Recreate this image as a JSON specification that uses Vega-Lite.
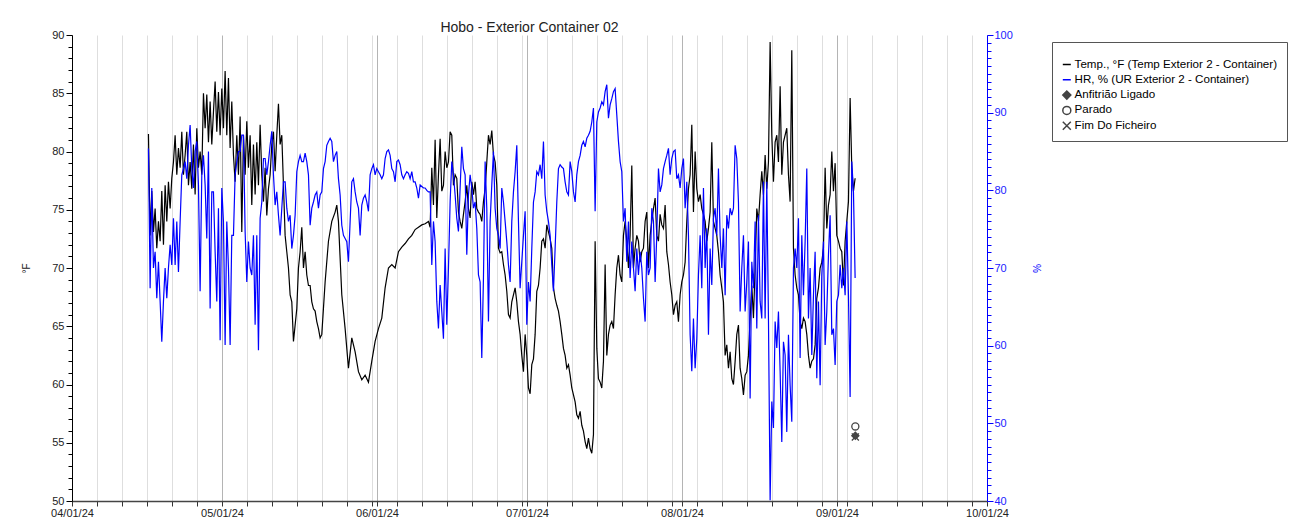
{
"$schema": "https://vega.github.io/schema/vega-lite/v6.json",
"width": 915,
"height": 466,
"autosize": {"type": "none"},
"padding": {"left": 72, "top": 35, "right": 307, "bottom": 18},
"background": "white",
"title": {"text": "Hobo - Exterior Container 02", "fontSize": 14, "font": "Liberation Sans", "fontWeight": "normal", "color": "#222222", "offset": -6, "frame": "group", "anchor": "middle"},
"config": {"view": {"stroke": null}, "font": "Liberation Sans", "axis": {"labelFont": "Liberation Sans", "titleFont": "Liberation Sans"}},
"encoding": {
  "x": {"field": "t", "type": "temporal", "title": null,
    "scale": {"domain": [{"year": 2024, "month": 4, "date": 1}, {"year": 2024, "month": 10, "date": 1}]},
    "axis": {
      "values": [{"year":2024,"month":4,"date":1},{"year":2024,"month":4,"date":6},{"year":2024,"month":4,"date":11},{"year":2024,"month":4,"date":16},{"year":2024,"month":4,"date":21},{"year":2024,"month":4,"date":26},{"year":2024,"month":5,"date":1},{"year":2024,"month":5,"date":6},{"year":2024,"month":5,"date":11},{"year":2024,"month":5,"date":16},{"year":2024,"month":5,"date":21},{"year":2024,"month":5,"date":26},{"year":2024,"month":5,"date":31},{"year":2024,"month":6,"date":1},{"year":2024,"month":6,"date":5},{"year":2024,"month":6,"date":10},{"year":2024,"month":6,"date":15},{"year":2024,"month":6,"date":20},{"year":2024,"month":6,"date":25},{"year":2024,"month":6,"date":30},{"year":2024,"month":7,"date":1},{"year":2024,"month":7,"date":5},{"year":2024,"month":7,"date":10},{"year":2024,"month":7,"date":15},{"year":2024,"month":7,"date":20},{"year":2024,"month":7,"date":25},{"year":2024,"month":7,"date":30},{"year":2024,"month":8,"date":1},{"year":2024,"month":8,"date":4},{"year":2024,"month":8,"date":9},{"year":2024,"month":8,"date":14},{"year":2024,"month":8,"date":19},{"year":2024,"month":8,"date":24},{"year":2024,"month":8,"date":29},{"year":2024,"month":9,"date":1},{"year":2024,"month":9,"date":3},{"year":2024,"month":9,"date":8},{"year":2024,"month":9,"date":13},{"year":2024,"month":9,"date":18},{"year":2024,"month":9,"date":23},{"year":2024,"month":9,"date":28},{"year":2024,"month":10,"date":1}],
      "labelExpr": "date(datum.value) == 1 ? timeFormat(datum.value, '%m/%d/%y') : ''",
      "labelOverlap": false, "labelFlush": false, "labelFontSize": 11, "labelColor": "#222222", "labelPadding": 1,
      "grid": true,
      "gridColor": {"condition": {"test": "date(datum.value) == 1", "value": "#b4b4b4"}, "value": "#dedede"},
      "gridWidth": 1,
      "tickColor": "#333333", "tickSize": 5, "domainColor": "#444444", "domainWidth": 1.5
    }
  }
},
"layer": [
  {
    "layer": [
      {
        "data": {"format": {"parse": {"t": "date:'%Y-%m-%d %H'"}}, "values": [
{"t":"2024-04-16 07","v":81.5},{"t":"2024-04-16 15","v":72.8},{"t":"2024-04-16 23","v":76.6},
{"t":"2024-04-17 07","v":73.1},{"t":"2024-04-17 15","v":75.1},{"t":"2024-04-17 23","v":71.7},
{"t":"2024-04-18 07","v":74.0},{"t":"2024-04-18 15","v":72.3},{"t":"2024-04-18 23","v":76.6},
{"t":"2024-04-19 07","v":72.0},{"t":"2024-04-19 15","v":77.1},{"t":"2024-04-19 23","v":74.0},
{"t":"2024-04-20 07","v":77.4},{"t":"2024-04-20 15","v":75.1},{"t":"2024-04-20 23","v":77.7},
{"t":"2024-04-21 07","v":79.1},{"t":"2024-04-21 15","v":81.4},{"t":"2024-04-21 23","v":78.0},
{"t":"2024-04-22 07","v":80.3},{"t":"2024-04-22 15","v":78.6},{"t":"2024-04-22 23","v":81.7},
{"t":"2024-04-23 07","v":78.0},{"t":"2024-04-23 15","v":79.7},{"t":"2024-04-23 23","v":81.7},
{"t":"2024-04-24 07","v":77.1},{"t":"2024-04-24 15","v":79.1},{"t":"2024-04-24 23","v":76.8},
{"t":"2024-04-25 07","v":80.6},{"t":"2024-04-25 15","v":76.3},{"t":"2024-04-25 23","v":82.0},
{"t":"2024-04-26 07","v":78.6},{"t":"2024-04-26 15","v":80.0},{"t":"2024-04-26 23","v":78.0},
{"t":"2024-04-27 07","v":85.0},{"t":"2024-04-27 15","v":82.0},{"t":"2024-04-27 23","v":84.9},
{"t":"2024-04-28 07","v":80.8},{"t":"2024-04-28 15","v":84.3},{"t":"2024-04-28 23","v":80.6},
{"t":"2024-04-29 07","v":83.4},{"t":"2024-04-29 15","v":86.0},{"t":"2024-04-29 23","v":81.7},
{"t":"2024-04-30 07","v":85.1},{"t":"2024-04-30 15","v":81.4},{"t":"2024-04-30 23","v":85.4},
{"t":"2024-05-01 07","v":82.0},{"t":"2024-05-01 15","v":86.9},{"t":"2024-05-01 23","v":81.4},
{"t":"2024-05-02 07","v":86.3},{"t":"2024-05-02 15","v":80.3},{"t":"2024-05-02 23","v":84.3},
{"t":"2024-05-03 07","v":79.7},{"t":"2024-05-03 15","v":77.4},{"t":"2024-05-03 23","v":81.4},
{"t":"2024-05-04 07","v":78.0},{"t":"2024-05-04 15","v":83.0},{"t":"2024-05-04 23","v":73.1},
{"t":"2024-05-05 07","v":81.4},{"t":"2024-05-05 15","v":78.0},{"t":"2024-05-05 23","v":82.6},
{"t":"2024-05-06 07","v":78.6},{"t":"2024-05-06 15","v":81.4},{"t":"2024-05-06 23","v":75.4},
{"t":"2024-05-07 07","v":80.6},{"t":"2024-05-07 15","v":76.3},{"t":"2024-05-07 23","v":80.8},
{"t":"2024-05-08 07","v":77.1},{"t":"2024-05-08 15","v":82.3},{"t":"2024-05-08 23","v":78.0},
{"t":"2024-05-09 07","v":75.7},{"t":"2024-05-09 15","v":78.6},{"t":"2024-05-09 23","v":74.5},
{"t":"2024-05-10 07","v":76.8},{"t":"2024-05-10 15","v":78.0},{"t":"2024-05-10 23","v":80.6},
{"t":"2024-05-11 07","v":81.7},{"t":"2024-05-11 15","v":78.3},{"t":"2024-05-11 23","v":81.4},
{"t":"2024-05-12 07","v":84.1},{"t":"2024-05-12 15","v":80.6},{"t":"2024-05-12 23","v":81.4},
{"t":"2024-05-13 07","v":77.1},{"t":"2024-05-13 15","v":72.8},{"t":"2024-05-13 23","v":71.4},
{"t":"2024-05-14 07","v":70.0},{"t":"2024-05-14 15","v":67.7},{"t":"2024-05-14 23","v":67.1},
{"t":"2024-05-15 07","v":63.7},{"t":"2024-05-15 15","v":65.1},{"t":"2024-05-15 23","v":66.5},
{"t":"2024-05-16 07","v":70.0},{"t":"2024-05-16 15","v":71.4},{"t":"2024-05-16 23","v":73.5},
{"t":"2024-05-17 07","v":70.0},{"t":"2024-05-17 15","v":71.4},{"t":"2024-05-17 23","v":69.4},
{"t":"2024-05-18 07","v":68.5},{"t":"2024-05-18 15","v":68.5},{"t":"2024-05-18 23","v":67.1},
{"t":"2024-05-19 07","v":66.5},{"t":"2024-05-19 15","v":66.3},{"t":"2024-05-19 23","v":65.4},
{"t":"2024-05-20 07","v":64.8},{"t":"2024-05-20 15","v":64.0},{"t":"2024-05-20 23","v":64.3},
{"t":"2024-05-21 15","v":68.8},{"t":"2024-05-22 07","v":72.3},{"t":"2024-05-22 23","v":74.0},
{"t":"2024-05-23 15","v":74.8},{"t":"2024-05-23 23","v":75.4},{"t":"2024-05-24 07","v":74.0},
{"t":"2024-05-24 23","v":67.7},{"t":"2024-05-25 15","v":64.8},{"t":"2024-05-26 07","v":61.4},
{"t":"2024-05-26 23","v":64.0},{"t":"2024-05-27 15","v":62.8},{"t":"2024-05-28 07","v":61.1},
{"t":"2024-05-28 23","v":60.4},{"t":"2024-05-29 15","v":60.8},{"t":"2024-05-30 07","v":60.2},
{"t":"2024-05-30 23","v":62.0},{"t":"2024-05-31 15","v":63.7},{"t":"2024-06-01 07","v":64.8},
{"t":"2024-06-01 23","v":65.7},{"t":"2024-06-02 15","v":68.3},{"t":"2024-06-03 07","v":70.0},
{"t":"2024-06-03 23","v":70.3},{"t":"2024-06-04 15","v":70.0},{"t":"2024-06-05 07","v":71.4},
{"t":"2024-06-05 23","v":71.8},{"t":"2024-06-06 15","v":72.1},{"t":"2024-06-07 07","v":72.5},
{"t":"2024-06-07 23","v":72.8},{"t":"2024-06-08 15","v":73.3},{"t":"2024-06-09 07","v":73.5},
{"t":"2024-06-09 23","v":73.7},{"t":"2024-06-10 15","v":73.8},{"t":"2024-06-11 07","v":74.0},
{"t":"2024-06-11 15","v":73.5},{"t":"2024-06-11 23","v":78.6},
{"t":"2024-06-12 07","v":75.4},{"t":"2024-06-12 15","v":81.0},{"t":"2024-06-12 23","v":74.3},
{"t":"2024-06-13 07","v":78.0},{"t":"2024-06-13 15","v":81.1},{"t":"2024-06-13 23","v":76.6},
{"t":"2024-06-14 07","v":77.1},{"t":"2024-06-14 15","v":80.0},{"t":"2024-06-14 23","v":78.6},
{"t":"2024-06-15 07","v":79.1},{"t":"2024-06-15 15","v":81.7},{"t":"2024-06-15 23","v":81.4},
{"t":"2024-06-16 07","v":77.1},{"t":"2024-06-16 15","v":78.0},{"t":"2024-06-16 23","v":77.7},
{"t":"2024-06-17 07","v":74.8},{"t":"2024-06-17 15","v":74.0},{"t":"2024-06-17 23","v":73.4},
{"t":"2024-06-18 07","v":74.6},{"t":"2024-06-18 15","v":75.7},{"t":"2024-06-18 23","v":77.1},
{"t":"2024-06-19 07","v":75.1},{"t":"2024-06-19 15","v":74.3},{"t":"2024-06-19 23","v":77.4},
{"t":"2024-06-20 07","v":76.3},{"t":"2024-06-20 15","v":77.4},{"t":"2024-06-20 23","v":75.1},
{"t":"2024-06-21 07","v":74.8},{"t":"2024-06-21 15","v":74.6},{"t":"2024-06-21 23","v":74.0},
{"t":"2024-06-22 07","v":75.7},{"t":"2024-06-22 15","v":76.8},{"t":"2024-06-22 23","v":79.1},
{"t":"2024-06-23 07","v":81.4},{"t":"2024-06-23 15","v":80.6},{"t":"2024-06-23 23","v":81.8},
{"t":"2024-06-24 07","v":79.7},{"t":"2024-06-24 15","v":79.1},{"t":"2024-06-24 23","v":77.1},
{"t":"2024-06-25 07","v":71.7},{"t":"2024-06-25 15","v":71.3},{"t":"2024-06-25 23","v":71.4},
{"t":"2024-06-26 07","v":70.3},{"t":"2024-06-26 15","v":69.4},{"t":"2024-06-26 23","v":68.0},
{"t":"2024-06-27 07","v":66.0},{"t":"2024-06-27 15","v":65.7},{"t":"2024-06-27 23","v":67.1},
{"t":"2024-06-28 07","v":67.7},{"t":"2024-06-28 15","v":68.3},{"t":"2024-06-28 23","v":67.1},
{"t":"2024-06-29 07","v":65.4},{"t":"2024-06-29 15","v":64.3},{"t":"2024-06-29 23","v":62.5},
{"t":"2024-06-30 07","v":61.1},{"t":"2024-06-30 15","v":64.3},{"t":"2024-06-30 23","v":62.5},
{"t":"2024-07-01 07","v":59.7},{"t":"2024-07-01 15","v":59.2},{"t":"2024-07-01 23","v":61.7},
{"t":"2024-07-02 07","v":62.2},{"t":"2024-07-02 15","v":64.3},{"t":"2024-07-02 23","v":68.0},
{"t":"2024-07-03 07","v":68.5},{"t":"2024-07-03 15","v":70.0},{"t":"2024-07-03 23","v":72.3},
{"t":"2024-07-04 07","v":72.5},{"t":"2024-07-04 15","v":71.7},{"t":"2024-07-04 23","v":73.7},
{"t":"2024-07-05 07","v":73.1},{"t":"2024-07-05 15","v":72.5},{"t":"2024-07-05 23","v":71.7},
{"t":"2024-07-06 07","v":68.3},{"t":"2024-07-06 15","v":67.4},{"t":"2024-07-06 23","v":66.8},
{"t":"2024-07-07 07","v":66.3},{"t":"2024-07-07 15","v":65.4},{"t":"2024-07-07 23","v":64.3},
{"t":"2024-07-08 07","v":63.1},{"t":"2024-07-08 15","v":62.5},{"t":"2024-07-08 23","v":61.4},
{"t":"2024-07-09 07","v":61.7},{"t":"2024-07-09 15","v":60.8},{"t":"2024-07-09 23","v":59.7},
{"t":"2024-07-10 07","v":59.1},{"t":"2024-07-10 15","v":58.5},{"t":"2024-07-10 23","v":57.4},
{"t":"2024-07-11 07","v":57.1},{"t":"2024-07-11 15","v":57.7},{"t":"2024-07-11 23","v":56.5},
{"t":"2024-07-12 07","v":56.0},{"t":"2024-07-12 15","v":55.1},{"t":"2024-07-12 23","v":54.5},
{"t":"2024-07-13 07","v":55.4},{"t":"2024-07-13 15","v":54.5},{"t":"2024-07-13 23","v":54.1},
{"t":"2024-07-14 07","v":55.7},{"t":"2024-07-14 15","v":72.3},{"t":"2024-07-14 23","v":63.1},
{"t":"2024-07-15 07","v":60.5},{"t":"2024-07-15 15","v":60.2},{"t":"2024-07-15 23","v":59.7},
{"t":"2024-07-16 07","v":62.0},{"t":"2024-07-16 15","v":70.3},{"t":"2024-07-16 23","v":62.5},
{"t":"2024-07-17 07","v":64.3},{"t":"2024-07-17 15","v":65.1},{"t":"2024-07-17 23","v":65.4},
{"t":"2024-07-18 07","v":64.8},{"t":"2024-07-18 15","v":67.7},{"t":"2024-07-18 23","v":70.0},
{"t":"2024-07-19 07","v":71.1},{"t":"2024-07-19 15","v":69.4},{"t":"2024-07-19 23","v":68.8},
{"t":"2024-07-20 07","v":72.8},{"t":"2024-07-20 15","v":74.0},{"t":"2024-07-20 23","v":72.3},
{"t":"2024-07-21 07","v":70.0},{"t":"2024-07-21 15","v":72.8},{"t":"2024-07-21 23","v":78.8},
{"t":"2024-07-22 07","v":70.0},{"t":"2024-07-22 15","v":71.7},{"t":"2024-07-22 23","v":72.8},
{"t":"2024-07-23 07","v":72.3},{"t":"2024-07-23 15","v":70.5},{"t":"2024-07-23 23","v":71.4},
{"t":"2024-07-24 07","v":71.7},{"t":"2024-07-24 15","v":74.0},{"t":"2024-07-24 23","v":74.8},
{"t":"2024-07-25 07","v":70.0},{"t":"2024-07-25 15","v":72.8},{"t":"2024-07-25 23","v":74.0},
{"t":"2024-07-26 07","v":75.1},{"t":"2024-07-26 15","v":76.0},{"t":"2024-07-26 23","v":72.8},
{"t":"2024-07-27 07","v":72.3},{"t":"2024-07-27 15","v":74.6},{"t":"2024-07-27 23","v":73.7},
{"t":"2024-07-28 07","v":73.4},{"t":"2024-07-28 15","v":75.4},{"t":"2024-07-28 23","v":71.4},
{"t":"2024-07-29 07","v":70.3},{"t":"2024-07-29 15","v":68.8},{"t":"2024-07-29 23","v":67.7},
{"t":"2024-07-30 07","v":66.0},{"t":"2024-07-30 15","v":66.8},{"t":"2024-07-30 23","v":67.1},
{"t":"2024-07-31 07","v":65.4},{"t":"2024-07-31 15","v":67.7},{"t":"2024-07-31 23","v":68.8},
{"t":"2024-08-01 07","v":69.4},{"t":"2024-08-01 15","v":70.5},{"t":"2024-08-01 23","v":74.0},
{"t":"2024-08-02 07","v":76.8},{"t":"2024-08-02 15","v":78.0},{"t":"2024-08-02 23","v":82.3},
{"t":"2024-08-03 07","v":74.8},{"t":"2024-08-03 15","v":80.0},{"t":"2024-08-03 23","v":76.8},
{"t":"2024-08-04 07","v":75.7},{"t":"2024-08-04 15","v":76.3},{"t":"2024-08-04 23","v":75.1},
{"t":"2024-08-05 07","v":74.6},{"t":"2024-08-05 15","v":74.0},{"t":"2024-08-05 23","v":72.3},
{"t":"2024-08-06 07","v":73.4},{"t":"2024-08-06 15","v":74.8},{"t":"2024-08-06 23","v":80.8},
{"t":"2024-08-07 07","v":74.0},{"t":"2024-08-07 15","v":73.4},{"t":"2024-08-07 23","v":72.8},
{"t":"2024-08-08 07","v":71.4},{"t":"2024-08-08 15","v":69.4},{"t":"2024-08-08 23","v":68.3},
{"t":"2024-08-09 07","v":67.1},{"t":"2024-08-09 15","v":62.5},{"t":"2024-08-09 23","v":63.4},
{"t":"2024-08-10 07","v":61.4},{"t":"2024-08-10 15","v":62.8},{"t":"2024-08-10 23","v":60.5},
{"t":"2024-08-11 07","v":60.0},{"t":"2024-08-11 15","v":62.0},{"t":"2024-08-11 23","v":64.3},
{"t":"2024-08-12 07","v":65.1},{"t":"2024-08-12 15","v":61.4},{"t":"2024-08-12 23","v":60.5},
{"t":"2024-08-13 07","v":59.1},{"t":"2024-08-13 15","v":60.8},{"t":"2024-08-13 23","v":61.1},
{"t":"2024-08-14 07","v":62.5},{"t":"2024-08-14 15","v":65.7},{"t":"2024-08-14 23","v":68.5},
{"t":"2024-08-15 07","v":65.7},{"t":"2024-08-15 15","v":70.0},{"t":"2024-08-15 23","v":75.1},
{"t":"2024-08-16 07","v":74.0},{"t":"2024-08-16 15","v":76.3},{"t":"2024-08-16 23","v":78.3},
{"t":"2024-08-17 07","v":76.3},{"t":"2024-08-17 15","v":79.7},{"t":"2024-08-17 23","v":76.8},
{"t":"2024-08-18 07","v":79.1},{"t":"2024-08-18 15","v":89.4},{"t":"2024-08-18 23","v":81.4},
{"t":"2024-08-19 07","v":77.4},{"t":"2024-08-19 15","v":80.8},{"t":"2024-08-19 23","v":81.4},
{"t":"2024-08-20 07","v":79.1},{"t":"2024-08-20 15","v":85.6},{"t":"2024-08-20 23","v":78.0},
{"t":"2024-08-21 07","v":80.8},{"t":"2024-08-21 15","v":81.4},{"t":"2024-08-21 23","v":82.0},
{"t":"2024-08-22 07","v":78.0},{"t":"2024-08-22 15","v":75.7},{"t":"2024-08-22 23","v":88.7},
{"t":"2024-08-23 07","v":71.7},{"t":"2024-08-23 15","v":69.4},{"t":"2024-08-23 23","v":68.3},
{"t":"2024-08-24 07","v":67.7},{"t":"2024-08-24 15","v":65.4},{"t":"2024-08-24 23","v":64.8},
{"t":"2024-08-25 07","v":65.7},{"t":"2024-08-25 15","v":65.4},{"t":"2024-08-25 23","v":64.3},
{"t":"2024-08-26 07","v":62.5},{"t":"2024-08-26 15","v":61.4},{"t":"2024-08-26 23","v":62.0},
{"t":"2024-08-27 07","v":62.2},{"t":"2024-08-27 15","v":63.4},{"t":"2024-08-27 23","v":67.4},
{"t":"2024-08-28 07","v":68.3},{"t":"2024-08-28 15","v":70.0},{"t":"2024-08-28 23","v":70.5},
{"t":"2024-08-29 07","v":71.7},{"t":"2024-08-29 15","v":78.6},{"t":"2024-08-29 23","v":73.4},
{"t":"2024-08-30 07","v":75.4},{"t":"2024-08-30 15","v":76.3},{"t":"2024-08-30 23","v":80.0},
{"t":"2024-08-31 07","v":76.6},{"t":"2024-08-31 15","v":79.0},{"t":"2024-08-31 23","v":72.8},
{"t":"2024-09-01 07","v":72.3},{"t":"2024-09-01 15","v":71.7},{"t":"2024-09-01 23","v":71.4},
{"t":"2024-09-02 07","v":68.5},{"t":"2024-09-02 15","v":72.3},{"t":"2024-09-02 23","v":74.0},
{"t":"2024-09-03 07","v":75.7},{"t":"2024-09-03 15","v":84.6},{"t":"2024-09-03 23","v":78.6},
{"t":"2024-09-04 07","v":76.6},{"t":"2024-09-04 15","v":77.7}
        ]},
        "mark": {"type": "line", "color": "#000000", "strokeWidth": 1.2},
        "encoding": {
          "y": {"field": "v", "type": "quantitative",
            "scale": {"domain": [50, 90], "nice": false, "zero": false},
            "axis": {"title": "°F", "titleFontWeight": "normal", "titleFontSize": 10, "titleColor": "#222222", "titlePadding": 20,
              "values": [50,51,52,53,54,55,56,57,58,59,60,61,62,63,64,65,66,67,68,69,70,71,72,73,74,75,76,77,78,79,80,81,82,83,84,85,86,87,88,89,90],
              "labelExpr": "datum.value % 5 == 0 ? datum.label : ''",
              "tickSize": {"condition": {"test": "datum.value % 5 == 0", "value": 6}, "value": 4},
              "grid": false, "domainColor": "#000000", "tickColor": "#000000", "labelColor": "#222222", "labelFontSize": 11, "labelPadding": 2}
          }
        }
      },
      {
        "data": {"format": {"parse": {"t": "date:'%Y-%m-%d %H'"}}, "values": [
          {"t": "2024-09-04 16", "v": 55.6, "ev": "Anfitrião Ligado"},
          {"t": "2024-09-04 16", "v": 56.4, "ev": "Parado"},
          {"t": "2024-09-04 16", "v": 55.5, "ev": "Fim Do Ficheiro"}
        ]},
        "mark": {"type": "point", "size": 50, "strokeWidth": 1.3, "opacity": 1},
        "encoding": {
          "y": {"field": "v", "type": "quantitative", "scale": {"domain": [50, 90], "nice": false, "zero": false},
            "axis": {"title": "°F", "titleFontWeight": "normal", "titleFontSize": 10, "titleColor": "#222222", "titlePadding": 20,
              "values": [50,51,52,53,54,55,56,57,58,59,60,61,62,63,64,65,66,67,68,69,70,71,72,73,74,75,76,77,78,79,80,81,82,83,84,85,86,87,88,89,90],
              "labelExpr": "datum.value % 5 == 0 ? datum.label : ''",
              "tickSize": {"condition": {"test": "datum.value % 5 == 0", "value": 6}, "value": 4},
              "grid": false, "domainColor": "#000000", "tickColor": "#000000", "labelColor": "#222222", "labelFontSize": 11, "labelPadding": 2}
          },
          "shape": {"field": "ev", "type": "nominal",
            "scale": {"domain": ["Temp., °F (Temp Exterior 2 - Container)", "HR, % (UR Exterior 2 - Container)", "Anfitrião Ligado", "Parado", "Fim Do Ficheiro"],
                      "range": ["stroke", "stroke", "diamond", "circle", "M-1,-1L1,1M-1,1L1,-1"]},
            "legend": {"title": " ", "titleFontSize": 8, "titlePadding": 0, "orient": "none", "legendX": 980, "legendY": 7, "strokeColor": "#555555", "fillColor": "#ffffff", "padding": 9, "labelFont": "Liberation Sans", "labelFontSize": 11.6, "labelLimit": 0, "symbolSize": 64, "symbolStrokeWidth": 1.5, "clipHeight": 11, "rowPadding": 2.3, "labelOffset": 2,
              "encode": {"labels": {"update": {"fill": {"signal": "datum.value == 'HR, % (UR Exterior 2 - Container)' ? '#0000ff' : (datum.value == 'Temp., °F (Temp Exterior 2 - Container)' ? '#000000' : '#333333')"}}}}}
          },
          "stroke": {"field": "ev", "type": "nominal",
            "scale": {"domain": ["Temp., °F (Temp Exterior 2 - Container)", "HR, % (UR Exterior 2 - Container)", "Anfitrião Ligado", "Parado", "Fim Do Ficheiro"],
                      "range": ["#000000", "#0000ff", "#444444", "#444444", "#444444"]},
            "legend": {"title": " ", "titleFontSize": 8, "titlePadding": 0, "orient": "none", "legendX": 980, "legendY": 7, "strokeColor": "#555555", "fillColor": "#ffffff", "padding": 9, "labelFont": "Liberation Sans", "labelFontSize": 11.6, "labelLimit": 0, "symbolSize": 64, "symbolStrokeWidth": 1.5, "clipHeight": 11, "rowPadding": 2.3, "labelOffset": 2,
              "encode": {"labels": {"update": {"fill": {"signal": "datum.value == 'HR, % (UR Exterior 2 - Container)' ? '#0000ff' : (datum.value == 'Temp., °F (Temp Exterior 2 - Container)' ? '#000000' : '#333333')"}}}}}
          },
          "fill": {"field": "ev", "type": "nominal",
            "scale": {"domain": ["Temp., °F (Temp Exterior 2 - Container)", "HR, % (UR Exterior 2 - Container)", "Anfitrião Ligado", "Parado", "Fim Do Ficheiro"],
                      "range": ["transparent", "transparent", "#444444", "transparent", "transparent"]},
            "legend": {"title": " ", "titleFontSize": 8, "titlePadding": 0, "orient": "none", "legendX": 980, "legendY": 7, "strokeColor": "#555555", "fillColor": "#ffffff", "padding": 9, "labelFont": "Liberation Sans", "labelFontSize": 11.6, "labelLimit": 0, "symbolSize": 64, "symbolStrokeWidth": 1.5, "clipHeight": 11, "rowPadding": 2.3, "labelOffset": 2,
              "encode": {"labels": {"update": {"fill": {"signal": "datum.value == 'HR, % (UR Exterior 2 - Container)' ? '#0000ff' : (datum.value == 'Temp., °F (Temp Exterior 2 - Container)' ? '#000000' : '#333333')"}}}}}
          }
        }
      }
    ]
  },
  {
    "data": {"format": {"parse": {"t": "date:'%Y-%m-%d %H'"}}, "values": [
{"t":"2024-04-16 07","v":85.4},{"t":"2024-04-16 15","v":67.4},{"t":"2024-04-16 23","v":80.3},
{"t":"2024-04-17 07","v":70.0},{"t":"2024-04-17 15","v":72.1},{"t":"2024-04-17 23","v":66.1},
{"t":"2024-04-18 07","v":70.8},{"t":"2024-04-18 15","v":65.7},{"t":"2024-04-18 23","v":60.5},
{"t":"2024-04-19 07","v":65.7},{"t":"2024-04-19 15","v":70.0},{"t":"2024-04-19 23","v":66.1},
{"t":"2024-04-20 07","v":70.0},{"t":"2024-04-20 15","v":73.0},{"t":"2024-04-20 23","v":70.4},
{"t":"2024-04-21 07","v":76.4},{"t":"2024-04-21 15","v":70.4},{"t":"2024-04-21 23","v":76.0},
{"t":"2024-04-22 07","v":69.5},{"t":"2024-04-22 15","v":76.0},{"t":"2024-04-22 23","v":82.0},
{"t":"2024-04-23 07","v":82.8},{"t":"2024-04-23 15","v":83.7},{"t":"2024-04-23 23","v":81.5},
{"t":"2024-04-24 07","v":85.8},{"t":"2024-04-24 15","v":88.4},{"t":"2024-04-24 23","v":82.8},
{"t":"2024-04-25 07","v":80.3},{"t":"2024-04-25 15","v":85.0},{"t":"2024-04-25 23","v":86.3},
{"t":"2024-04-26 07","v":80.7},{"t":"2024-04-26 15","v":67.0},{"t":"2024-04-26 23","v":82.0},
{"t":"2024-04-27 07","v":84.5},{"t":"2024-04-27 15","v":80.7},{"t":"2024-04-27 23","v":73.8},
{"t":"2024-04-28 07","v":85.0},{"t":"2024-04-28 15","v":64.8},{"t":"2024-04-28 23","v":79.8},
{"t":"2024-04-29 07","v":79.8},{"t":"2024-04-29 15","v":72.1},{"t":"2024-04-29 23","v":65.7},
{"t":"2024-04-30 07","v":77.7},{"t":"2024-04-30 15","v":60.7},{"t":"2024-04-30 23","v":80.3},
{"t":"2024-05-01 07","v":76.0},{"t":"2024-05-01 15","v":60.1},{"t":"2024-05-01 23","v":76.0},
{"t":"2024-05-02 07","v":70.0},{"t":"2024-05-02 15","v":60.1},{"t":"2024-05-02 23","v":74.2},
{"t":"2024-05-03 07","v":74.2},{"t":"2024-05-03 15","v":82.0},{"t":"2024-05-03 23","v":83.7},
{"t":"2024-05-04 07","v":85.0},{"t":"2024-05-04 15","v":85.0},{"t":"2024-05-04 23","v":87.1},
{"t":"2024-05-05 07","v":87.1},{"t":"2024-05-05 15","v":74.7},{"t":"2024-05-05 23","v":68.2},
{"t":"2024-05-06 07","v":73.4},{"t":"2024-05-06 15","v":70.0},{"t":"2024-05-06 23","v":69.1},
{"t":"2024-05-07 07","v":74.2},{"t":"2024-05-07 15","v":62.7},{"t":"2024-05-07 23","v":74.2},
{"t":"2024-05-08 07","v":59.4},{"t":"2024-05-08 15","v":76.4},{"t":"2024-05-08 23","v":78.5},
{"t":"2024-05-09 07","v":84.1},{"t":"2024-05-09 15","v":84.1},{"t":"2024-05-09 23","v":82.0},
{"t":"2024-05-10 07","v":83.7},{"t":"2024-05-10 15","v":85.8},{"t":"2024-05-10 23","v":87.6},
{"t":"2024-05-11 07","v":82.0},{"t":"2024-05-11 15","v":78.1},{"t":"2024-05-11 23","v":79.8},
{"t":"2024-05-12 07","v":76.8},{"t":"2024-05-12 15","v":74.2},{"t":"2024-05-12 23","v":77.7},
{"t":"2024-05-13 07","v":81.1},{"t":"2024-05-13 15","v":81.1},{"t":"2024-05-13 23","v":77.7},
{"t":"2024-05-14 07","v":76.0},{"t":"2024-05-14 15","v":76.8},{"t":"2024-05-14 23","v":72.5},
{"t":"2024-05-15 07","v":74.2},{"t":"2024-05-15 15","v":76.8},{"t":"2024-05-15 23","v":82.4},
{"t":"2024-05-16 07","v":83.7},{"t":"2024-05-16 15","v":84.5},{"t":"2024-05-16 23","v":83.7},
{"t":"2024-05-17 07","v":83.7},{"t":"2024-05-17 15","v":84.8},{"t":"2024-05-17 23","v":83.7},
{"t":"2024-05-18 07","v":82.0},{"t":"2024-05-18 15","v":75.5},{"t":"2024-05-18 23","v":77.7},
{"t":"2024-05-19 07","v":78.5},{"t":"2024-05-19 15","v":79.4},{"t":"2024-05-19 23","v":79.8},
{"t":"2024-05-20 07","v":77.7},{"t":"2024-05-20 15","v":79.4},{"t":"2024-05-20 23","v":79.8},
{"t":"2024-05-21 07","v":82.8},{"t":"2024-05-21 15","v":83.7},{"t":"2024-05-21 23","v":85.8},
{"t":"2024-05-22 07","v":86.3},{"t":"2024-05-22 15","v":86.7},{"t":"2024-05-22 23","v":86.3},
{"t":"2024-05-23 07","v":83.7},{"t":"2024-05-23 15","v":84.5},{"t":"2024-05-23 23","v":85.0},
{"t":"2024-05-24 07","v":81.5},{"t":"2024-05-24 15","v":79.4},{"t":"2024-05-24 23","v":75.5},
{"t":"2024-05-25 07","v":74.2},{"t":"2024-05-25 15","v":73.8},{"t":"2024-05-25 23","v":73.4},
{"t":"2024-05-26 07","v":70.8},{"t":"2024-05-26 15","v":76.0},{"t":"2024-05-26 23","v":81.1},
{"t":"2024-05-27 07","v":81.5},{"t":"2024-05-27 15","v":79.8},{"t":"2024-05-27 23","v":78.5},
{"t":"2024-05-28 07","v":77.7},{"t":"2024-05-28 15","v":74.2},{"t":"2024-05-28 23","v":78.1},
{"t":"2024-05-29 07","v":79.0},{"t":"2024-05-29 15","v":79.4},{"t":"2024-05-29 23","v":78.5},
{"t":"2024-05-30 07","v":77.3},{"t":"2024-05-30 15","v":82.0},{"t":"2024-05-30 23","v":82.8},
{"t":"2024-05-31 07","v":83.3},{"t":"2024-05-31 15","v":82.0},{"t":"2024-05-31 23","v":82.8},
{"t":"2024-06-01 07","v":82.4},{"t":"2024-06-01 15","v":82.0},{"t":"2024-06-01 23","v":81.5},
{"t":"2024-06-02 07","v":82.0},{"t":"2024-06-02 15","v":84.1},{"t":"2024-06-02 23","v":85.0},
{"t":"2024-06-03 07","v":85.2},{"t":"2024-06-03 15","v":84.5},{"t":"2024-06-03 23","v":82.8},
{"t":"2024-06-04 07","v":82.4},{"t":"2024-06-04 15","v":81.1},{"t":"2024-06-04 23","v":83.7},
{"t":"2024-06-05 07","v":83.9},{"t":"2024-06-05 15","v":83.3},{"t":"2024-06-05 23","v":82.0},
{"t":"2024-06-06 07","v":81.5},{"t":"2024-06-06 15","v":82.0},{"t":"2024-06-06 23","v":82.4},
{"t":"2024-06-07 07","v":82.2},{"t":"2024-06-07 15","v":81.5},{"t":"2024-06-07 23","v":82.4},
{"t":"2024-06-08 07","v":81.1},{"t":"2024-06-08 15","v":81.1},{"t":"2024-06-08 23","v":80.3},
{"t":"2024-06-09 07","v":79.0},{"t":"2024-06-09 15","v":80.7},{"t":"2024-06-09 23","v":80.5},
{"t":"2024-06-10 07","v":80.3},{"t":"2024-06-10 15","v":80.3},{"t":"2024-06-10 23","v":80.0},
{"t":"2024-06-11 07","v":79.8},{"t":"2024-06-11 15","v":79.8},{"t":"2024-06-11 23","v":70.4},
{"t":"2024-06-12 07","v":76.0},{"t":"2024-06-12 15","v":73.4},{"t":"2024-06-12 23","v":65.7},
{"t":"2024-06-13 07","v":62.2},{"t":"2024-06-13 15","v":67.8},{"t":"2024-06-13 23","v":64.4},
{"t":"2024-06-14 07","v":60.9},{"t":"2024-06-14 15","v":72.5},{"t":"2024-06-14 23","v":62.7},
{"t":"2024-06-15 07","v":70.0},{"t":"2024-06-15 15","v":78.5},{"t":"2024-06-15 23","v":83.7},
{"t":"2024-06-16 07","v":82.0},{"t":"2024-06-16 15","v":79.4},{"t":"2024-06-16 23","v":76.4},
{"t":"2024-06-17 07","v":74.7},{"t":"2024-06-17 15","v":80.3},{"t":"2024-06-17 23","v":85.6},
{"t":"2024-06-18 07","v":82.8},{"t":"2024-06-18 15","v":82.0},{"t":"2024-06-18 23","v":71.7},
{"t":"2024-06-19 07","v":79.4},{"t":"2024-06-19 15","v":82.0},{"t":"2024-06-19 23","v":80.3},
{"t":"2024-06-20 07","v":77.7},{"t":"2024-06-20 15","v":78.5},{"t":"2024-06-20 23","v":75.1},
{"t":"2024-06-21 07","v":69.1},{"t":"2024-06-21 15","v":68.2},{"t":"2024-06-21 23","v":58.4},
{"t":"2024-06-22 07","v":68.7},{"t":"2024-06-22 15","v":83.7},{"t":"2024-06-22 23","v":77.7},
{"t":"2024-06-23 07","v":63.1},{"t":"2024-06-23 15","v":76.0},{"t":"2024-06-23 23","v":80.7},
{"t":"2024-06-24 07","v":85.0},{"t":"2024-06-24 15","v":77.7},{"t":"2024-06-24 23","v":75.1},
{"t":"2024-06-25 07","v":74.2},{"t":"2024-06-25 15","v":72.5},{"t":"2024-06-25 23","v":80.3},
{"t":"2024-06-26 07","v":78.5},{"t":"2024-06-26 15","v":76.0},{"t":"2024-06-26 23","v":73.4},
{"t":"2024-06-27 07","v":70.4},{"t":"2024-06-27 15","v":68.2},{"t":"2024-06-27 23","v":76.0},
{"t":"2024-06-28 07","v":79.8},{"t":"2024-06-28 15","v":82.4},{"t":"2024-06-28 23","v":85.8},
{"t":"2024-06-29 07","v":76.0},{"t":"2024-06-29 15","v":67.4},{"t":"2024-06-29 23","v":70.8},
{"t":"2024-06-30 07","v":74.2},{"t":"2024-06-30 15","v":77.3},{"t":"2024-06-30 23","v":62.7},
{"t":"2024-07-01 07","v":68.2},{"t":"2024-07-01 15","v":65.7},{"t":"2024-07-01 23","v":72.5},
{"t":"2024-07-02 07","v":78.5},{"t":"2024-07-02 15","v":79.8},{"t":"2024-07-02 23","v":82.4},
{"t":"2024-07-03 07","v":82.0},{"t":"2024-07-03 15","v":83.3},{"t":"2024-07-03 23","v":81.5},
{"t":"2024-07-04 07","v":86.3},{"t":"2024-07-04 15","v":79.4},{"t":"2024-07-04 23","v":77.3},
{"t":"2024-07-05 07","v":76.0},{"t":"2024-07-05 15","v":74.2},{"t":"2024-07-05 23","v":70.4},
{"t":"2024-07-06 07","v":67.0},{"t":"2024-07-06 15","v":72.5},{"t":"2024-07-06 23","v":78.5},
{"t":"2024-07-07 07","v":82.8},{"t":"2024-07-07 15","v":83.3},{"t":"2024-07-07 23","v":83.0},
{"t":"2024-07-08 07","v":82.8},{"t":"2024-07-08 15","v":81.1},{"t":"2024-07-08 23","v":79.8},
{"t":"2024-07-09 07","v":79.4},{"t":"2024-07-09 15","v":83.7},{"t":"2024-07-09 23","v":82.4},
{"t":"2024-07-10 07","v":79.8},{"t":"2024-07-10 15","v":78.5},{"t":"2024-07-10 23","v":82.0},
{"t":"2024-07-11 07","v":83.7},{"t":"2024-07-11 15","v":84.5},{"t":"2024-07-11 23","v":85.8},
{"t":"2024-07-12 07","v":86.3},{"t":"2024-07-12 15","v":85.6},{"t":"2024-07-12 23","v":86.7},
{"t":"2024-07-13 07","v":87.1},{"t":"2024-07-13 15","v":87.6},{"t":"2024-07-13 23","v":88.8},
{"t":"2024-07-14 07","v":90.6},{"t":"2024-07-14 15","v":77.3},{"t":"2024-07-14 23","v":88.8},
{"t":"2024-07-15 07","v":90.1},{"t":"2024-07-15 15","v":90.6},{"t":"2024-07-15 23","v":91.4},
{"t":"2024-07-16 07","v":91.0},{"t":"2024-07-16 15","v":92.7},{"t":"2024-07-16 23","v":93.6},
{"t":"2024-07-17 07","v":89.3},{"t":"2024-07-17 15","v":91.0},{"t":"2024-07-17 23","v":91.8},
{"t":"2024-07-18 07","v":92.7},{"t":"2024-07-18 15","v":93.1},{"t":"2024-07-18 23","v":89.7},
{"t":"2024-07-19 07","v":86.3},{"t":"2024-07-19 15","v":83.7},{"t":"2024-07-19 23","v":82.4},
{"t":"2024-07-20 07","v":76.0},{"t":"2024-07-20 15","v":77.7},{"t":"2024-07-20 23","v":70.8},
{"t":"2024-07-21 07","v":76.0},{"t":"2024-07-21 15","v":68.7},{"t":"2024-07-21 23","v":73.4},
{"t":"2024-07-22 07","v":70.0},{"t":"2024-07-22 15","v":67.0},{"t":"2024-07-22 23","v":72.5},
{"t":"2024-07-23 07","v":69.1},{"t":"2024-07-23 15","v":72.1},{"t":"2024-07-23 23","v":70.0},
{"t":"2024-07-24 07","v":66.1},{"t":"2024-07-24 15","v":63.1},{"t":"2024-07-24 23","v":72.1},
{"t":"2024-07-25 07","v":69.1},{"t":"2024-07-25 15","v":70.0},{"t":"2024-07-25 23","v":77.7},
{"t":"2024-07-26 07","v":76.0},{"t":"2024-07-26 15","v":68.2},{"t":"2024-07-26 23","v":74.2},
{"t":"2024-07-27 07","v":82.8},{"t":"2024-07-27 15","v":79.8},{"t":"2024-07-27 23","v":80.7},
{"t":"2024-07-28 07","v":82.8},{"t":"2024-07-28 15","v":83.7},{"t":"2024-07-28 23","v":84.5},
{"t":"2024-07-29 07","v":85.4},{"t":"2024-07-29 15","v":82.0},{"t":"2024-07-29 23","v":84.1},
{"t":"2024-07-30 07","v":85.0},{"t":"2024-07-30 15","v":85.2},{"t":"2024-07-30 23","v":81.5},
{"t":"2024-07-31 07","v":82.0},{"t":"2024-07-31 15","v":80.3},{"t":"2024-07-31 23","v":82.8},
{"t":"2024-08-01 07","v":84.1},{"t":"2024-08-01 15","v":77.7},{"t":"2024-08-01 23","v":81.1},
{"t":"2024-08-02 07","v":74.2},{"t":"2024-08-02 15","v":61.4},{"t":"2024-08-02 23","v":56.7},
{"t":"2024-08-03 07","v":63.5},{"t":"2024-08-03 15","v":57.1},{"t":"2024-08-03 23","v":60.9},
{"t":"2024-08-04 07","v":69.1},{"t":"2024-08-04 15","v":74.2},{"t":"2024-08-04 23","v":67.4},
{"t":"2024-08-05 07","v":80.3},{"t":"2024-08-05 15","v":70.0},{"t":"2024-08-05 23","v":75.1},
{"t":"2024-08-06 07","v":61.4},{"t":"2024-08-06 15","v":72.5},{"t":"2024-08-06 23","v":67.8},
{"t":"2024-08-07 07","v":76.4},{"t":"2024-08-07 15","v":77.7},{"t":"2024-08-07 23","v":74.2},
{"t":"2024-08-08 07","v":82.8},{"t":"2024-08-08 15","v":74.2},{"t":"2024-08-08 23","v":70.0},
{"t":"2024-08-09 07","v":75.1},{"t":"2024-08-09 15","v":66.5},{"t":"2024-08-09 23","v":76.8},
{"t":"2024-08-10 07","v":75.1},{"t":"2024-08-10 15","v":77.7},{"t":"2024-08-10 23","v":76.8},
{"t":"2024-08-11 07","v":77.7},{"t":"2024-08-11 15","v":85.8},{"t":"2024-08-11 23","v":84.1},
{"t":"2024-08-12 07","v":78.5},{"t":"2024-08-12 15","v":64.4},{"t":"2024-08-12 23","v":70.0},
{"t":"2024-08-13 07","v":74.2},{"t":"2024-08-13 15","v":64.4},{"t":"2024-08-13 23","v":68.2},
{"t":"2024-08-14 07","v":73.4},{"t":"2024-08-14 15","v":53.2},{"t":"2024-08-14 23","v":70.8},
{"t":"2024-08-15 07","v":67.4},{"t":"2024-08-15 15","v":76.0},{"t":"2024-08-15 23","v":62.2},
{"t":"2024-08-16 07","v":76.8},{"t":"2024-08-16 15","v":65.7},{"t":"2024-08-16 23","v":63.5},
{"t":"2024-08-17 07","v":81.1},{"t":"2024-08-17 15","v":63.5},{"t":"2024-08-17 23","v":81.1},
{"t":"2024-08-18 07","v":63.5},{"t":"2024-08-18 15","v":40.1},{"t":"2024-08-18 23","v":52.8},
{"t":"2024-08-19 07","v":49.4},{"t":"2024-08-19 15","v":63.1},{"t":"2024-08-19 23","v":59.7},
{"t":"2024-08-20 07","v":64.4},{"t":"2024-08-20 15","v":56.7},{"t":"2024-08-20 23","v":47.6},
{"t":"2024-08-21 07","v":60.5},{"t":"2024-08-21 15","v":58.8},{"t":"2024-08-21 23","v":48.9},
{"t":"2024-08-22 07","v":61.4},{"t":"2024-08-22 15","v":54.9},{"t":"2024-08-22 23","v":50.2},
{"t":"2024-08-23 07","v":70.0},{"t":"2024-08-23 15","v":72.5},{"t":"2024-08-23 23","v":70.0},
{"t":"2024-08-24 07","v":76.4},{"t":"2024-08-24 15","v":58.4},{"t":"2024-08-24 23","v":74.2},
{"t":"2024-08-25 07","v":66.5},{"t":"2024-08-25 15","v":73.4},{"t":"2024-08-25 23","v":82.8},
{"t":"2024-08-26 07","v":63.5},{"t":"2024-08-26 15","v":70.0},{"t":"2024-08-26 23","v":58.8},
{"t":"2024-08-27 07","v":66.5},{"t":"2024-08-27 15","v":72.1},{"t":"2024-08-27 23","v":55.8},
{"t":"2024-08-28 07","v":65.7},{"t":"2024-08-28 15","v":54.9},{"t":"2024-08-28 23","v":69.1},
{"t":"2024-08-29 07","v":73.4},{"t":"2024-08-29 15","v":60.1},{"t":"2024-08-29 23","v":64.4},
{"t":"2024-08-30 07","v":71.7},{"t":"2024-08-30 15","v":76.8},{"t":"2024-08-30 23","v":61.4},
{"t":"2024-08-31 07","v":62.2},{"t":"2024-08-31 15","v":57.5},{"t":"2024-08-31 23","v":65.7},
{"t":"2024-09-01 07","v":66.5},{"t":"2024-09-01 15","v":70.4},{"t":"2024-09-01 23","v":67.4},
{"t":"2024-09-02 07","v":70.0},{"t":"2024-09-02 15","v":66.5},{"t":"2024-09-02 23","v":76.0},
{"t":"2024-09-03 07","v":66.5},{"t":"2024-09-03 15","v":53.4},{"t":"2024-09-03 23","v":83.7},
{"t":"2024-09-04 07","v":79.8},{"t":"2024-09-04 15","v":68.7}
    ]},
    "mark": {"type": "line", "color": "#0000ff", "strokeWidth": 1.2},
    "encoding": {
      "y": {"field": "v", "type": "quantitative",
        "scale": {"domain": [40, 100], "nice": false, "zero": false},
        "axis": {"orient": "right", "title": "%", "titleFontWeight": "normal", "titleFontSize": 10, "titleColor": "#0000ff", "titlePadding": 18,
          "values": [40,41,42,43,44,45,46,47,48,49,50,51,52,53,54,55,56,57,58,59,60,61,62,63,64,65,66,67,68,69,70,71,72,73,74,75,76,77,78,79,80,81,82,83,84,85,86,87,88,89,90,91,92,93,94,95,96,97,98,99,100],
          "labelExpr": "datum.value % 10 == 0 ? datum.label : ''",
          "tickSize": {"condition": {"test": "datum.value % 10 == 0", "value": 6}, "value": 4},
          "grid": false, "domainColor": "#0000ff", "tickColor": "#0000ff", "labelColor": "#2020ff", "labelFontSize": 11, "labelPadding": 1}
      }
    }
  }
],
"resolve": {"scale": {"y": "independent"}}
}
